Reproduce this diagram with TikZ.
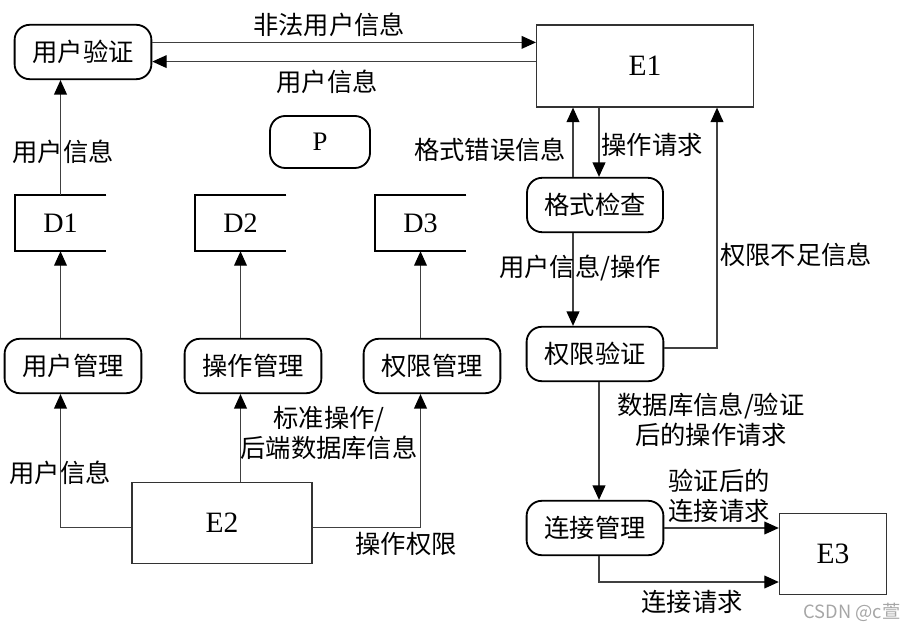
\documentclass[tikz,border=0pt]{standalone}
\usepackage{fontspec}
\setmainfont{Liberation Serif}
\newfontfamily\cjk{Noto Sans CJK SC}
\usetikzlibrary{arrows.meta}

\tikzset{
    proc/.style={draw,line width=1.3pt,rounded corners=0.38cm,minimum width=3.42cm,minimum height=1.36cm,font=\cjk\fontsize{18pt}{22pt}\selectfont},
    ent/.style={draw=black!80,line width=0.9pt,font=\fontsize{21pt}{24pt}\selectfont},
    store/.style={minimum width=2.28cm,minimum height=1.4cm,font=\fontsize{20pt}{24pt}\selectfont},
    lbl/.style={font=\cjk\fontsize{18pt}{21pt}\selectfont,align=center,inner sep=0pt},
    flow/.style={draw=black!75,line width=0.8pt,-{Triangle[length=3.6mm,width=3.2mm,color=black]}},
}

\begin{document}
\begin{tikzpicture}
            \useasboundingbox (0,0) rectangle (22.525,15.675);

            \node[proc] (yhyz) at (2.075,14.375) {用户验证};
            \node[proc,minimum width=2.5cm,minimum height=1.3cm,font=\fontsize{19pt}{22pt}\selectfont] (P) at (8,12.125) {P};
            \node[ent,minimum width=5.42cm,minimum height=2.05cm] (E1) at (16.125,14.025) {E1};
            \node[store] (D1) at (1.5125,10.1) {D1};
            \node[store] (D2) at (6.0125,10.1) {D2};
            \node[store] (D3) at (10.5125,10.1) {D3};
            \node[proc] (yhgl) at (1.825,6.525) {用户管理};
            \node[proc] (czgl) at (6.325,6.525) {操作管理};
            \node[proc] (qxgl) at (10.8,6.525) {权限管理};
            \node[ent,minimum width=4.5cm,minimum height=2.02cm] (E2) at (5.55,2.6) {E2};
            \node[proc,minimum width=3.4cm] (gsjc) at (14.875,10.55) {格式检查};
            \node[proc] (qxyz) at (14.875,6.825) {权限验证};
            \node[proc] (ljgl) at (14.875,2.475) {连接管理};
            \node[ent,minimum width=2.68cm,minimum height=2.02cm] (E3) at (20.825,1.825) {E3};

            \foreach \s in {D1,D2,D3}
                \draw[line width=1.3pt] (\s.north east)--(\s.north west)--(\s.south west)--(\s.south east);

            \coordinate (cl) at (14.325,0);
            \coordinate (cr) at (14.975,0);
            \coordinate (cq) at (17.925,0);

            \draw[flow] ([yshift=2.4mm]yhyz.east)--([yshift=2.4mm]yhyz.east -| E1.west);
            \draw[flow] ([yshift=-2.4mm]yhyz.east -| E1.west)--([yshift=-2.4mm]yhyz.east);
            \draw[flow] (D1.north)--(D1.north |- yhyz.south);
            \draw[flow] (D1.south |- yhgl.north)--(D1.south);
            \draw[flow] (D2.south |- czgl.north)--(D2.south);
            \draw[flow] (D3.south |- qxgl.north)--(D3.south);
            \draw[flow] ([yshift=-1.2mm]E2.west) -| (D1.south |- yhgl.south);
            \draw[flow] (E2.north -| D2.south)--(D2.south |- czgl.south);
            \draw[flow] ([yshift=-1.2mm]E2.east) -| (D3.south |- qxgl.south);

            \draw[flow] (gsjc.north -| cl)--(E1.south -| cl);
            \draw[flow] (E1.south -| cr)--(gsjc.north -| cr);
            \draw[flow] (gsjc.south -| cl)--(qxyz.north -| cl);
            \draw[flow] ([yshift=1.5mm]qxyz.east) -| (E1.south -| cq);
            \draw[flow] (qxyz.south -| cr)--(ljgl.north -| cr);
            \draw[flow] (ljgl.east)--(ljgl.east -| E3.west);
            \draw[flow] (ljgl.south -| cr) |- ([yshift=-7mm]E3.west);

            \node[lbl] (l1) at (8.225,15.05) {非法用户信息};
            \node[lbl] (l2) at (8.175,13.625) {用户信息};
            \node[lbl] (l3) at (1.575,11.875) {用户信息};
            \node[lbl] (l4) at (12.25,11.925) {格式错误信息};
            \node[lbl] (l5) at (16.3,12.05) {操作请求};
            \node[lbl] (l6) at (14.5,8.975) {用户信息/操作};
            \node[lbl] (l7) at (19.9,9.3) {权限不足信息};
            \node[lbl] (l8) at (1.5,3.85) {用户信息};
            \node[lbl] (l9) at (8.225,4.85) {标准操作/\\后端数据库信息};
            \node[lbl] (l10) at (10.15,2.075) {操作权限};
            \node[lbl] (l11) at (17.775,5.175) {数据库信息/验证\\后的操作请求};
            \node[lbl] (l12) at (17.975,3.275) {验证后的\\连接请求};
            \node[lbl] (l13) at (17.3,0.625) {连接请求};
            \node[font=\cjk\fontsize{13pt}{15pt}\selectfont,text=black!35,inner sep=0pt] (wm) at (21.3,0.375) {CSDN @c萱};
        \end{tikzpicture}
\end{document}
